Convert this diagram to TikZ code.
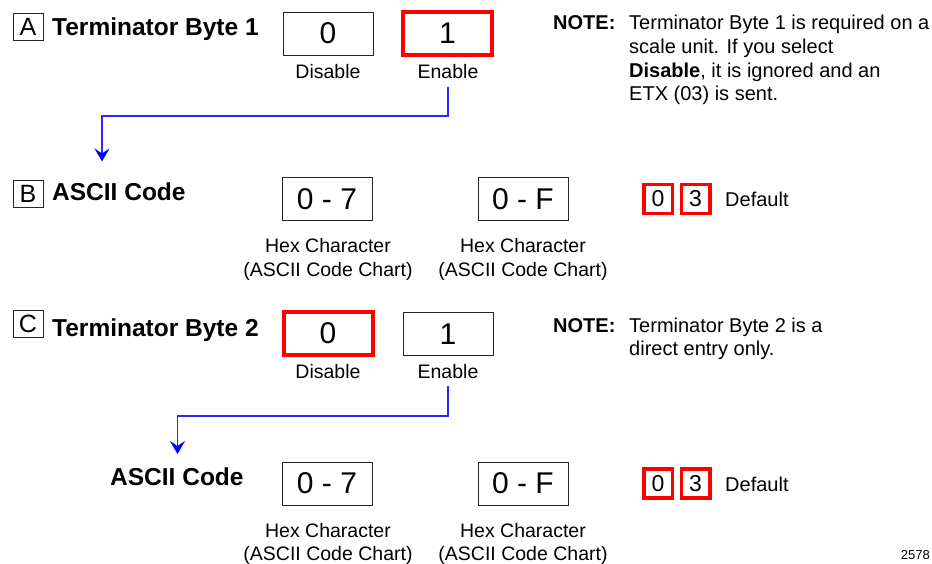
\documentclass[tikz,border=0pt]{standalone}
\usepackage{fontspec}
\setmainfont{Liberation Sans}
\usetikzlibrary{arrows.meta}
\begin{document}
\begin{tikzpicture}[x=1pt,y=-1pt,
  letterbox/.style={draw=black!85,line width=0.9pt,minimum width=30pt,minimum height=27pt,inner sep=0pt,font=\fontsize{25}{28}\selectfont},
  heading/.style={anchor=base west,inner sep=0pt,font=\fontsize{24.5}{29}\selectfont\bfseries},
  numbox/.style={draw=black!85,line width=0.9pt,minimum width=90pt,minimum height=43pt,inner sep=0pt,font=\fontsize{30}{34}\selectfont},
  selbox/.style={numbox,draw=red,line width=4pt,minimum width=89pt},
  defbox/.style={draw=red,line width=3.5pt,minimum width=28.5pt,minimum height=29pt,inner sep=0pt,font=\fontsize{23}{26}\selectfont},
  lab/.style={anchor=base,inner sep=0pt,font=\fontsize{19.5}{23}\selectfont},
  notetext/.style={anchor=base west,inner sep=0pt,font=\fontsize{20}{23}\selectfont},
  conn/.style={draw={rgb,255:red,40;green,40;blue,255},line width=1.3pt,-{Stealth[length=13pt,width=15pt,inset=5pt,color=blue]}}
]
\useasboundingbox (0,0) rectangle (932,563);

% ---- Section A ----
\node[letterbox] (la) at (28,26.5) {A};
\node[heading] (ha) at (52,35) {Terminator Byte 1};
\node[numbox] (a0) at (328,33.5) {0};
\node[selbox] (a1) at (447.5,33.5) {1};
\node[lab] (da) at (328,78) {Disable};
\node[lab] (ea) at (448,78) {Enable};
\node[notetext] (na) at (553,29) {\textbf{NOTE:}};
\node[notetext] (na1) at (629,29) {Terminator Byte 1 is required on a};
\node[notetext] (na2) at (629,53) {scale unit. If you select};
\node[notetext] (na3) at (629,77) {\textbf{Disable}, it is ignored and an};
\node[notetext] (na4) at (629,100) {ETX (03) is sent.};

% ---- Section B ----
\node[letterbox] (lb) at (28,194) {B};
\node[heading] (hb) at (52,200) {ASCII Code};
\node[numbox] (b7) at (327,199) {0 - 7};
\node[numbox] (bf) at (523,199) {0 - F};
\node[lab] (hb1) at (328,252) {Hex Character};
\node[lab] (hb2) at (328,276) {(ASCII Code Chart)};
\node[lab] (hb3) at (523,252) {Hex Character};
\node[lab] (hb4) at (523,276) {(ASCII Code Chart)};
\node[defbox] (db0) at (658,199) {0};
\node[defbox] (db3) at (695.5,199) {3};
\node[notetext] (dbt) at (725,206) {Default};

% ---- Section C ----
\node[letterbox] (lc) at (28,324) {C};
\node[heading] (hc) at (52,336) {Terminator Byte 2};
\node[selbox] (c0) at (328,333) {0};
\node[numbox] (c1) at (448,334) {1};
\node[lab] (dc) at (328,378) {Disable};
\node[lab] (ec) at (448,378) {Enable};
\node[notetext] (nc) at (553,332) {\textbf{NOTE:}};
\node[notetext] (nc1) at (629,332) {Terminator Byte 2 is a};
\node[notetext] (nc2) at (629,355) {direct entry only.};

% ---- ASCII code for byte 2 ----
\node[heading] (hd) at (110,485) {ASCII Code};
\node[numbox] (d7) at (327,483.5) {0 - 7};
\node[numbox] (df) at (523,483.5) {0 - F};
\node[lab] (hd1) at (328,537) {Hex Character};
\node[lab] (hd2) at (328,560) {(ASCII Code Chart)};
\node[lab] (hd3) at (523,537) {Hex Character};
\node[lab] (hd4) at (523,560) {(ASCII Code Chart)};
\node[defbox] (dd0) at (658,483.5) {0};
\node[defbox] (dd3) at (695.5,483.5) {3};
\node[notetext] (ddt) at (725,491) {Default};

\node[anchor=base east,inner sep=0pt,font=\fontsize{13}{15}\selectfont] (fig) at (930,559) {2578};

% ---- connectors ----
\coordinate (s1) at (448,87);
\coordinate (t1) at (102,161.5);
\draw[conn] (s1) -- ++(0,29) -| (t1);
\coordinate (s2) at (448,386);
\coordinate (t2) at (177.5,454);
\draw[conn] (s2) -- ++(0,30) -| (t2);
\end{tikzpicture}
\end{document}
